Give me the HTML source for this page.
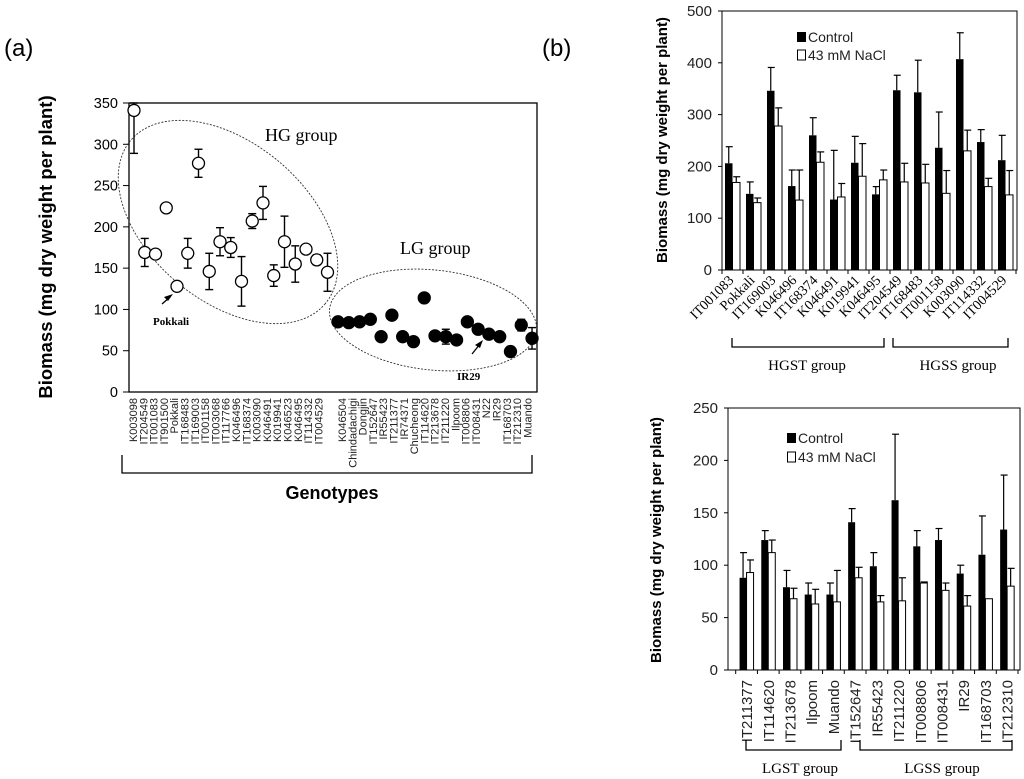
<!DOCTYPE html>
<html><head><meta charset="utf-8"><style>
body{margin:0;background:#fff}
svg{display:block}
text{font-family:"Liberation Sans",sans-serif}
.serif{font-family:"Liberation Serif",serif}
</style></head><body>
<svg id="fig" width="1024" height="779" viewBox="0 0 1024 779">
<text x="4" y="56" font-size="24">(a)</text>
<text x="542" y="56" font-size="24">(b)</text>
<g id="ga"></g>
<g id="gb1"></g>
<g id="gb2"></g>
</svg>
<script>
// ---- Panel (a) data ----
const hgNames = ["K003098","IT204549","IT001083","IT901500","Pokkali","IT168483","IT169003","IT001158","IT003068","IT117766","K046496","IT168374","K003090","K046491","K019941","K046523","K046495","IT114332","IT004529"];
const hgValues = [341,169,167,223,128,168,277,146,182,175,134,207,229,141,182,155,173,160,145];
const hgErr = [52,17,0,0,0,18,17,22,17,12,30,9,20,13,31,22,5,6,23];
const lgNames = ["K046504","Chindadachigi","Dongjin","IT152647","IR55423","IT211377","IR74371","Chucheong","IT114620","IT213678","IT211220","Ilpoom","IT008806","IT008431","N22","IR29","IT168703","IT212310","Muando"];
const lgValues = [85,84,85,88,67,93,67,61,114,68,67,63,85,76,70,67,49,81,65];
const lgErr = [0,0,0,0,0,0,0,0,0,0,9,0,0,0,0,0,6,7,13];
const aTicks = [0,50,100,150,200,250,300,350];

// ---- Panel (b) top data ----
const topNames = ["IT001083","Pokkali","IT169003","K046496","IT168374","K046491","K019941","K046495","IT204549","IT168483","IT001158","K003090","IT114332","IT004529"];
const topCtrl = [206,147,346,162,260,136,207,146,347,343,236,407,247,212];
const topCtrlErr = [32,23,45,31,34,95,51,15,29,62,69,51,24,48];
const topNacl = [169,130,278,135,208,141,181,174,170,168,148,230,161,145];
const topNaclErr = [11,9,35,58,20,26,63,19,36,36,44,40,16,47];
const topTicks = [0,100,200,300,400,500];

// ---- Panel (b) bottom data ----
const botNames = ["IT211377","IT114620","IT213678","Ilpoom","Muando","IT152647","IR55423","IT211220","IT008806","IT008431","IR29","IT168703","IT212310"];
const botCtrl = [88,124,79,72,72,141,99,162,118,124,92,110,134];
const botCtrlErr = [24,9,16,11,11,13,13,63,15,11,8,37,52];
const botNacl = [93,112,68,63,65,88,65,66,83,76,61,68,80];
const botNaclErr = [12,12,10,14,30,10,6,22,1,7,10,0,17];
const botTicks = [0,50,100,150,200,250];

const NS="http://www.w3.org/2000/svg";
function mk(parent,tag,attrs,txt){const e=document.createElementNS(NS,tag);for(const k in attrs)e.setAttribute(k,attrs[k]);if(txt!==undefined)e.textContent=txt;parent.appendChild(e);return e;}

// ===== Panel (a) =====
(function(){
  const g=document.getElementById('ga');
  const L=129,R=537,T=103,B=392,maxV=350;
  const y=v=>B-(Math.min(v,maxV))*(B-T)/maxV;
  const xh=i=>134+i*10.75, xl=i=>338+i*10.78;
  let e=mk(g,'rect',{x:L,y:T,width:R-L,height:B-T,fill:'none',stroke:'#000','stroke-width':1.3});
  
  
  aTicks.forEach(t=>{
    mk(g,'line',{x1:L-6,x2:L,y1:y(t),y2:y(t),stroke:'#000'});
    e=mk(g,'text',{x:118,y:y(t)+5,'font-size':14.5,'text-anchor':'end'},t);
    
    
  });
  e=mk(g,'text',{transform:'translate(52,247) rotate(-90)','font-size':18.5,'font-weight':'bold','text-anchor':'middle'},'Biomass (mg dry weight per plant)');
  
  
  e=mk(g,'ellipse',{cx:228,cy:222,rx:127,ry:79,transform:'rotate(40 228 222)',fill:'none',stroke:'#333','stroke-dasharray':'2,1.5','stroke-width':0.9});
  
  
  e=mk(g,'ellipse',{cx:433,cy:320,rx:104,ry:50,transform:'rotate(6 433 320)',fill:'none',stroke:'#333','stroke-dasharray':'2,1.5','stroke-width':0.9});
  
  
  e=mk(g,'text',{x:265,y:141,'font-size':18,class:'serif'},'HG group');
  
  
  e=mk(g,'text',{x:400,y:254,'font-size':18,class:'serif'},'LG group');
  
  
  function pts(names,vals,errs,xf,fill){
    names.forEach((n,i)=>{
      const cx=xf(i),cy=y(vals[i]);
      if(errs[i]>0){
        const y1=y(vals[i]+errs[i]),y2=y(vals[i]-errs[i]);
        mk(g,'line',{x1:cx,x2:cx,y1:y1,y2:y2,stroke:'#000','stroke-width':1.4});
        mk(g,'line',{x1:cx-4,x2:cx+4,y1:y1,y2:y1,stroke:'#000','stroke-width':1.4});
        mk(g,'line',{x1:cx-4,x2:cx+4,y1:y2,y2:y2,stroke:'#000','stroke-width':1.4});
      }
      const c=mk(g,'circle',{cx:cx,cy:cy,r:6,fill:fill,stroke:'#000','stroke-width':1.3});
      
      
    });
  }
  pts(hgNames,hgValues,hgErr,xh,'#fff');
  pts(lgNames,lgValues,lgErr,xl,'#000');
  const labs=hgNames.map((n,i)=>[n,133+i*10.3]).concat(lgNames.map((n,i)=>[n,342+i*10.3]));
  labs.forEach(([n,x])=>{
    const t=mk(g,'text',{transform:`translate(${x+4},398) rotate(-90)`,'font-size':11,'text-anchor':'end',fill:'#222'},n);
    
    
  });
  mk(g,'line',{x1:162,y1:304,x2:170,y2:297,stroke:'#000','stroke-width':1.3});
  mk(g,'path',{d:'M173,294 L164,297 L168,301 Z',fill:'#000'});
  e=mk(g,'text',{x:153,y:325,'font-size':11,'font-weight':'bold',class:'serif'},'Pokkali');
  
  
  mk(g,'line',{x1:472,y1:354,x2:480,y2:344,stroke:'#000','stroke-width':1.3});
  mk(g,'path',{d:'M483,340 L475,345 L480,348 Z',fill:'#000'});
  e=mk(g,'text',{x:457,y:380,'font-size':11,'font-weight':'bold',class:'serif'},'IR29');
  
  
  mk(g,'path',{d:'M122,455 L122,473 L532,473 L532,455',fill:'none',stroke:'#000','stroke-width':1.3});
  e=mk(g,'text',{x:332,y:499,'font-size':18,'font-weight':'bold','text-anchor':'middle'},'Genotypes');
  
  
})();

function barChart(g,o){
  const {L,R,T,B,c0,c1,maxV,names,ctrl,ctrlErr,nacl,naclErr,ticks,bw}=o;
  const n=names.length,cw=(c1-c0)/n;
  const y=v=>B-v*(B-T)/maxV;
  const cx=i=>c0+cw*(i+0.5);
  let e=mk(g,'rect',{x:L,y:T,width:R-L,height:B-T,fill:'none',stroke:'#000','stroke-width':1});
  
  
  ticks.forEach(t=>{
    mk(g,'line',{x1:L-4,x2:L,y1:y(t),y2:y(t),stroke:'#000'});
    const tt=mk(g,'text',{x:L-10,y:y(t)+5,'font-size':15,'text-anchor':'end',fill:'#222'},t);
    
    
  });
  for(let i=0;i<=n;i++){const x=c0+cw*i;mk(g,'line',{x1:x,x2:x,y1:B,y2:B+4,stroke:'#000'});}
  function eb(x,v,err){if(err<=0)return;const y1=y(v+err);mk(g,'line',{x1:x,x2:x,y1:y(v),y2:y1,stroke:'#000','stroke-width':1.2});mk(g,'line',{x1:x-3,x2:x+4,y1:y1,y2:y1,stroke:'#000','stroke-width':1.2});}
  names.forEach((nm,i)=>{
    const c=cx(i);
    let r=mk(g,'rect',{x:c-bw,y:y(ctrl[i]),width:bw,height:B-y(ctrl[i]),fill:'#000'});
    
    
    r=mk(g,'rect',{x:c,y:y(nacl[i]),width:bw,height:B-y(nacl[i]),fill:'#fff',stroke:'#000','stroke-width':1});
    
    
    eb(c-bw/2,ctrl[i],ctrlErr[i]);
    eb(c+bw/2,nacl[i],naclErr[i]);
  });
  mk(g,'rect',{x:L,y:T,width:R-L,height:B-T,fill:'none',stroke:'#000','stroke-width':1});
  return cx;
}
function legend(g,x,y1,y2){
  mk(g,'rect',{x:x,y:y1-5,width:9,height:10,fill:'#000'});
  let e=mk(g,'text',{x:x+11,y:y1+5,'font-size':14,fill:'#222'},'Control');
  
  
  mk(g,'rect',{x:x+0.5,y:y2-5,width:8,height:10,fill:'#fff',stroke:'#000'});
  e=mk(g,'text',{x:x+11,y:y2+5,'font-size':14,fill:'#222'},'43 mM NaCl');
  
  
}
(function(){
  const g=document.getElementById('gb1');
  const cx=barChart(g,{L:722,R:1017,T:11,B:270,c0:722,c1:1016,maxV:500,names:topNames,ctrl:topCtrl,ctrlErr:topCtrlErr,nacl:topNacl,naclErr:topNaclErr,ticks:topTicks,bw:7.5});
  legend(g,797,37,55);
  let e=mk(g,'text',{transform:'translate(667,140) rotate(-90)','font-size':15,'font-weight':'bold','text-anchor':'middle'},'Biomass (mg dry weight per plant)');
  
  
  topNames.forEach((n,i)=>{
    const x=cx(i);
    const t=mk(g,'text',{transform:`translate(${x+2},281) rotate(-45)`,'font-size':14,'text-anchor':'end',class:'serif'},n);
    
    
  });
  mk(g,'path',{d:'M732,338 L732,347 L884,347 L884,338',fill:'none',stroke:'#000','stroke-width':1.3});
  mk(g,'path',{d:'M893,338 L893,347 L1008,347 L1008,338',fill:'none',stroke:'#000','stroke-width':1.3});
  e=mk(g,'text',{x:807,y:370,'font-size':15,'text-anchor':'middle',class:'serif'},'HGST group');
  
  
  e=mk(g,'text',{x:958,y:370,'font-size':15,'text-anchor':'middle',class:'serif'},'HGSS group');
  
  
})();
(function(){
  const g=document.getElementById('gb2');
  const cx=barChart(g,{L:728,R:1020,T:408,B:670,c0:735.7,c1:1018,maxV:250,names:botNames,ctrl:botCtrl,ctrlErr:botCtrlErr,nacl:botNacl,naclErr:botNaclErr,ticks:botTicks,bw:7});
  legend(g,787,438,457);
  let e=mk(g,'text',{transform:'translate(661,540) rotate(-90)','font-size':15,'font-weight':'bold','text-anchor':'middle'},'Biomass (mg dry weight per plant)');
  
  
  botNames.forEach((n,i)=>{
    const x=cx(i);
    const t=mk(g,'text',{transform:`translate(${x+5.5},680) rotate(-90)`,'font-size':15,'text-anchor':'end',fill:'#222'},n);
    
    
  });
  mk(g,'path',{d:'M746,740 L746,750 L841,750 L841,740',fill:'none',stroke:'#000','stroke-width':1.3});
  mk(g,'path',{d:'M860,740 L860,750 L1012,750 L1012,740',fill:'none',stroke:'#000','stroke-width':1.3});
  e=mk(g,'text',{x:800,y:773,'font-size':15,'text-anchor':'middle',class:'serif'},'LGST group');
  
  
  e=mk(g,'text',{x:942,y:773,'font-size':15,'text-anchor':'middle',class:'serif'},'LGSS group');
  
  
})();
</script>
</body></html>
